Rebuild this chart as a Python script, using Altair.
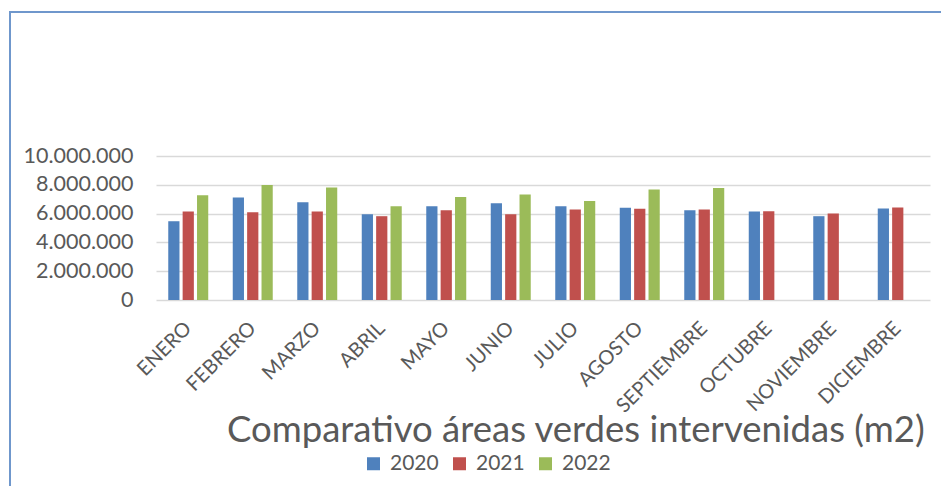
import altair as alt
import pandas as pd

months = ["ENERO", "FEBRERO", "MARZO", "ABRIL", "MAYO", "JUNIO", "JULIO",
          "AGOSTO", "SEPTIEMBRE", "OCTUBRE", "NOVIEMBRE", "DICIEMBRE"]
years = ["2020", "2021", "2022"]
v2020 = [5470000, 7110000, 6790000, 5960000, 6510000, 6720000, 6510000,
         6400000, 6240000, 6150000, 5820000, 6350000]
v2021 = [6150000, 6100000, 6150000, 5820000, 6240000, 5960000, 6280000,
         6330000, 6280000, 6170000, 6010000, 6420000]
v2022 = [7280000, 7990000, 7810000, 6510000, 7160000, 7320000, 6880000,
         7670000, 7780000, None, None, None]
colors = ["#4F81BD", "#C0504D", "#9BBB59"]
y_ticks = [0, 2000000, 4000000, 6000000, 8000000, 10000000]
title_text = "Comparativo áreas verdes intervenidas (m2)"

rows = []
for yr, vals in zip(years, [v2020, v2021, v2022]):
    for m, v in zip(months, vals):
        if v is not None:
            rows.append({"mes": m, "anio": yr, "valor": v})
df = pd.DataFrame(rows)

FONT = "Lato"
GRAY = "#595959"
FRAME = "#6F97CC"

bars = alt.Chart(df).mark_bar().encode(
    x=alt.X("mes:N", sort=months,
            scale=alt.Scale(paddingInner=0.38, paddingOuter=0.19),
            axis=alt.Axis(title=None, labelAngle=-45, labelAlign="right",
                          labelBaseline="middle", labelPadding=25,
                          labelFontSize=20, labelColor=GRAY, labelFont=FONT,
                          ticks=False, domain=False, grid=False)),
    xOffset=alt.XOffset("anio:N", scale=alt.Scale(domain=years, paddingInner=0.22)),
    y=alt.Y("valor:Q", scale=alt.Scale(domain=[0, 10000000]),
            axis=alt.Axis(title=None, values=y_ticks,
                          labelExpr="replace(format(datum.value, ','), /,/g, '.')",
                          domain=False, ticks=False, gridColor="#D9D9D9",
                          gridWidth=1.5, labelPadding=23, labelFontSize=21.5,
                          labelColor=GRAY, labelFont=FONT)),
    color=alt.Color("anio:N", scale=alt.Scale(domain=years, range=colors),
                    legend=alt.Legend(title=None, orient="none", direction="horizontal",
                                      legendX=207, legendY=297, symbolType="square",
                                      symbolSize=169, symbolStrokeWidth=0,
                                      labelFontSize=21, labelColor=GRAY, labelFont=FONT,
                                      columnPadding=10, labelOffset=6, padding=0)),
)

left_bar = alt.Chart(alt.Data(values=[{"k": "left"}])).mark_rect(
    fill=FRAME, strokeWidth=0
).encode(x=alt.value(-147), x2=alt.value(-145), y=alt.value(-145), y2=alt.value(330))
top_bar = alt.Chart(alt.Data(values=[{"k": "top"}])).mark_rect(
    fill=FRAME, strokeWidth=0
).encode(x=alt.value(-147), x2=alt.value(785), y=alt.value(-145), y2=alt.value(-143))

title = alt.Chart(alt.Data(values=[{"t": title_text}])).mark_text(
    align="left", baseline="alphabetic", font=FONT, fontSize=36.5, color=GRAY
).encode(text="t:N", x=alt.value(71), y=alt.value(286))

chart = alt.layer(left_bar, top_bar, bars, title).properties(
    width=774, height=144,
    autosize=alt.AutoSizeParams(type="none"),
    padding={"left": 148, "top": 148, "right": 11, "bottom": 186},
).configure(background="white", view=alt.ViewConfig(stroke=None))

chart.save("out.html", embed_options={"renderer": "svg", "actions": False})
